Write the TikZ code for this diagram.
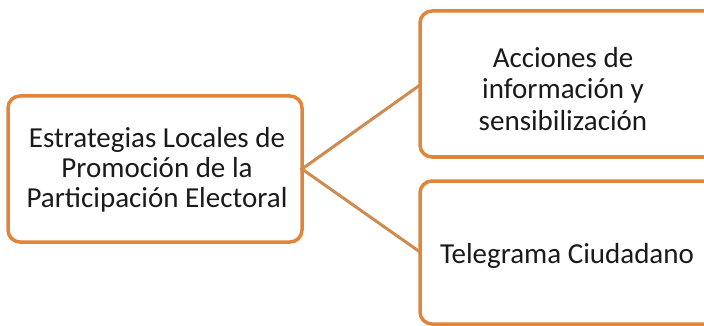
\documentclass[tikz,border=0pt]{standalone}
\usepackage{fontspec}
\setmainfont{Carlito}
\definecolor{boxorange}{HTML}{E0853A}
\definecolor{lineorange}{HTML}{D08A50}
\definecolor{txt}{HTML}{1A1A1A}
\begin{document}
\begin{tikzpicture}[x=1pt,y=-1pt,
  boxstyle/.style={draw=boxorange,line width=3.5pt,rounded corners=12pt,fill=white},
  conn/.style={draw=lineorange,line width=3pt},
  lbl/.style={text=txt,align=center,inner sep=0pt,font=\fontsize{29}{30}\selectfont}]
\useasboundingbox (0,0) rectangle (704,326);
\begin{scope}
\clip (0,0) rectangle (704,326);
\draw[boxstyle] (8,96) rectangle (302,242);
\draw[boxstyle] (420,11) rectangle (720,157);
\draw[boxstyle] (420,181) rectangle (720,324);
\end{scope}
\coordinate (L) at (302,169);
\coordinate (T) at (420,85);
\coordinate (B) at (420,252);
\node[lbl] (left) at (157,170) {Estrategias Locales de\\Promoción de la\\Participación Electoral};
\node[lbl,font=\fontsize{29}{31.5}\selectfont] (top) at (563,89) {Acciones de\\información y\\sensibilización};
\node[lbl] (bot) at (567,256) {Telegrama Ciudadano};
\draw[conn] (T) -- (L) -- (B);
\end{tikzpicture}
\end{document}
